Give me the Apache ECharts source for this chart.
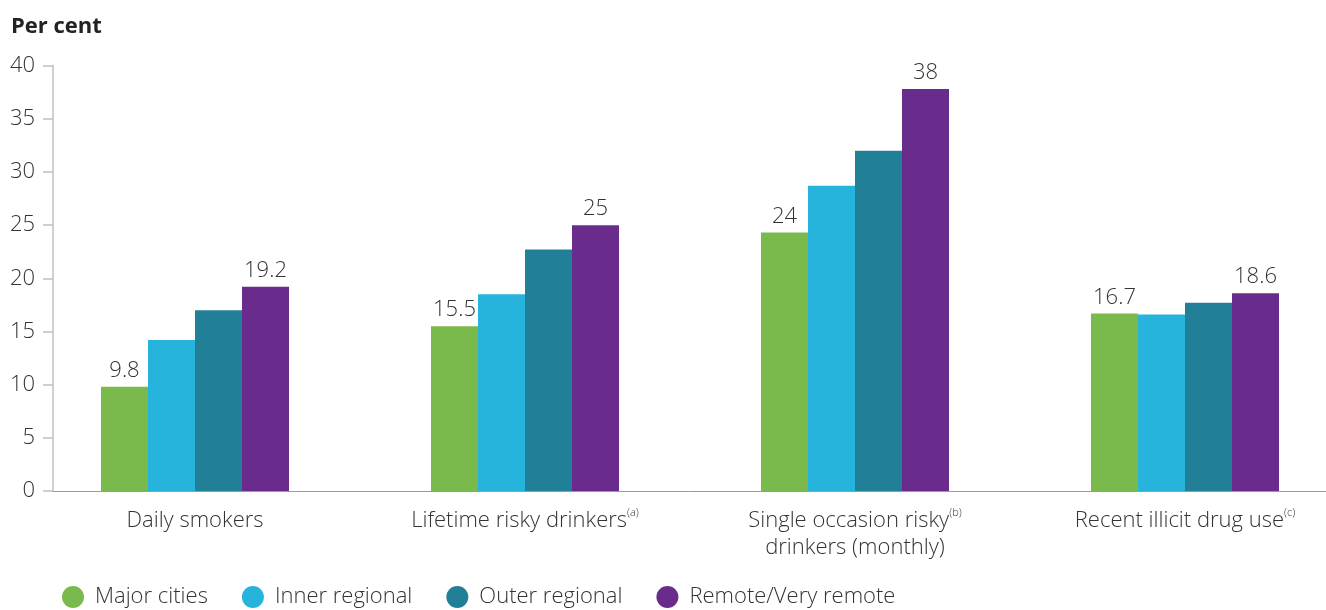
<!DOCTYPE html>
<html>
<head>
<meta charset="utf-8">
<script src="https://cdn.jsdelivr.net/npm/echarts@6/dist/echarts.min.js"></script>
<style>html,body{margin:0;padding:0;background:#fff}#c{width:1326px;height:610px}</style>
</head>
<body>
<div id="c"></div>
<script>
const categories = ['Daily smokers', 'Lifetime risky drinkers', 'Single occasion risky', 'Recent illicit drug use'];
const categoryLabels = [
  'Daily smokers',
  'Lifetime risky drinkers{sup|(a)}',
  'Single occasion risky{sup|(b)}\ndrinkers (monthly)',
  'Recent illicit drug use{sup|(c)}'
];
const seriesNames = ['Major cities', 'Inner regional', 'Outer regional', 'Remote/Very remote'];
const majorCities = [9.8, 15.5, 24.3, 16.7];
const innerRegional = [14.2, 18.5, 28.7, 16.6];
const outerRegional = [17.0, 22.7, 32.0, 17.7];
const remote = [19.2, 25.0, 37.8, 18.6];
const majorLabels = ['9.8', '15.5', '24', '16.7'];
const remoteLabels = ['19.2', '25', '38', '18.6'];
const yTicks = [0, 5, 10, 15, 20, 25, 30, 35, 40];

const colors = ['#7ab94c', '#27b4dc', '#227f98', '#692c8c'];
const FONT = '"Open Sans", "Noto Sans", sans-serif';

const chart = echarts.init(document.getElementById('c'), null, {renderer: 'canvas'});

function barSeries(name, data, color, labels) {
  const s = {
    name: name, type: 'bar', xAxisIndex: 0, yAxisIndex: 0,
    data: data, barWidth: 47, barGap: '0%',
    itemStyle: {color: color},
    emphasis: {disabled: true},
    label: {show: false}
  };
  if (labels) {
    s.label = {
      show: true, position: 'top', distance: 5,
      fontFamily: FONT, fontSize: 22, fontWeight: 300, color: '#333',
      formatter: p => labels[p.dataIndex]
    };
  }
  return s;
}

chart.setOption({
  animation: false,
  color: colors,
  title: {
    text: 'Per cent', left: 6, top: 11,
    textStyle: {fontFamily: FONT, fontSize: 22, fontWeight: 'bold', color: '#222'}
  },
  legend: {
    data: seriesNames, icon: 'circle', itemWidth: 22, itemHeight: 22, itemGap: 34,
    left: 57, top: 581,
    formatter: n => '{t|' + n + '}',
    textStyle: {
      fontFamily: FONT, fontSize: 22, fontWeight: 300, color: '#333',
      rich: {t: {fontFamily: FONT, fontSize: 22, fontWeight: 300, color: '#333', padding: [0, 0, 0, 6]}}
    }
  },
  grid: [
    {left: 30, width: 1320, top: 65.6, bottom: 119, outerBoundsMode: 'none'},
    {left: 53, right: 0, top: 65.6, bottom: 119, outerBoundsMode: 'none'}
  ],
  xAxis: [
    {
      gridIndex: 0, type: 'category', data: categories,
      axisLine: {show: false}, axisTick: {show: false}, splitLine: {show: false},
      axisLabel: {
        interval: 0, margin: 16,
        fontFamily: FONT, fontSize: 22, fontWeight: 300, color: '#333', lineHeight: 27,
        formatter: (v, i) => categoryLabels[i],
        rich: {sup: {fontFamily: FONT, fontSize: 11, fontWeight: 300, color: '#333', verticalAlign: 'top', lineHeight: 27, padding: [0, 0, 4, 0]}}
      }
    },
    {
      gridIndex: 1, type: 'category', data: categories,
      axisLine: {show: true, lineStyle: {color: '#9a9a9a', width: 1}},
      axisTick: {show: false}, axisLabel: {show: false}, splitLine: {show: false}
    }
  ],
  yAxis: [
    {gridIndex: 0, type: 'value', min: 0, max: 40, interval: 5, show: false, splitLine: {show: false}},
    {
      gridIndex: 1, type: 'value', min: yTicks[0], max: yTicks[yTicks.length - 1], interval: 5,
      axisLine: {show: true, lineStyle: {color: '#c0c0c0', width: 1.5}},
      axisTick: {show: true, length: 10, lineStyle: {color: '#c0c0c0', width: 1.5}},
      splitLine: {show: false},
      axisLabel: {margin: 18, fontFamily: FONT, fontSize: 22, fontWeight: 300, color: '#333'}
    }
  ],
  series: [
    barSeries(seriesNames[0], majorCities, colors[0], majorLabels),
    barSeries(seriesNames[1], innerRegional, colors[1], null),
    barSeries(seriesNames[2], outerRegional, colors[2], null),
    barSeries(seriesNames[3], remote, colors[3], remoteLabels)
  ]
});
</script>
</body>
</html>
